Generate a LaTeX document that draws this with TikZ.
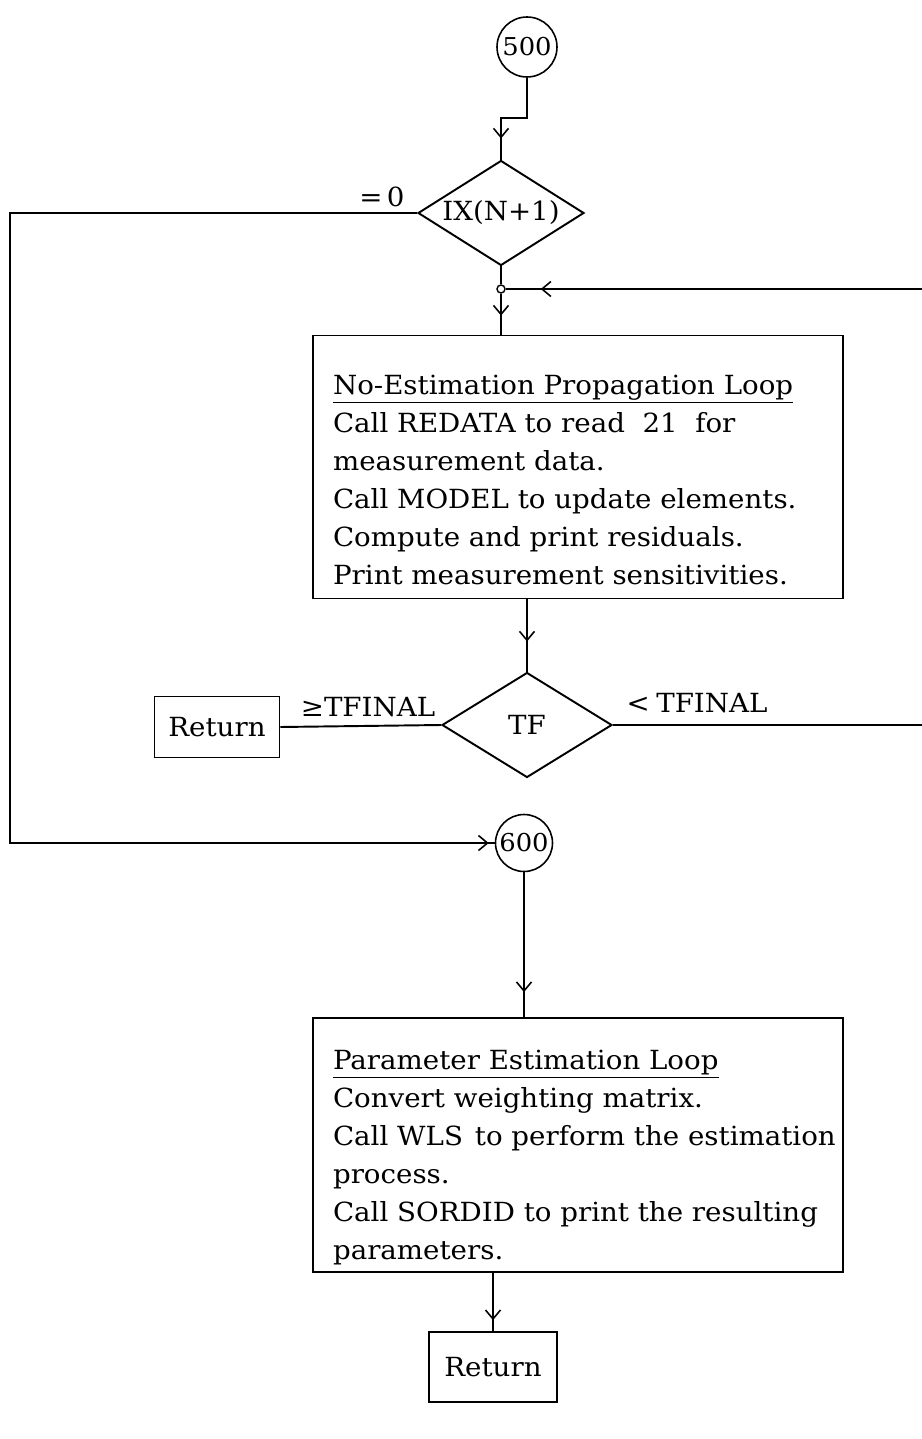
\documentclass[tikz,border=0pt]{standalone}
\usepackage{fontspec}
\setmainfont[FakeStretch=1.05,WordSpace=0.75]{DejaVu Serif}
\usetikzlibrary{arrows.meta,positioning,calc,shapes.geometric,decorations.markings}
\tikzset{
    conn/.style={circle,draw,line width=0.9pt,minimum size=1.2cm,inner sep=0pt,font=\fontsize{14}{16}\selectfont},
    decision/.style={diamond,draw,line width=1.1pt,inner sep=0pt,aspect=1.58,minimum width=3.32cm,minimum height=2.1cm},
    procbox/.style={draw,line width=1pt,align=left,text width=9.8cm,inner xsep=0.4cm},
    retbox/.style={draw,line width=0.9pt,minimum width=2.5cm,minimum height=1.22cm,inner sep=0pt},
    flow/.style={line width=1.1pt},
    midarrow/.style={flow,postaction={decorate},decoration={markings,mark=at position #1 with {\arrow{Straight Barb[length=1.8mm,width=3mm,line width=0.9pt]}}}}
}

\begin{document}
\begin{tikzpicture}[x=0.02cm,y=-0.02cm,every node/.style={font=\fontsize{15}{21.6}\selectfont}]
    \useasboundingbox (0,0) rectangle (921,1439);
    % top part
    \node[conn] (c500) at (527,47) {500};
    \node[decision] (ix) at (501,213) {IX(N+1)};
    \node (eq) at (382,197) {=\,0};
    \node[circle,draw,line width=0.8pt,minimum size=0.16cm,inner sep=0pt,font=] (jn) at (501,289) {};
    \node[procbox,minimum height=5.26cm] (prop) at (578,467) {\rule{0pt}{0.9cm}\underline{No-Estimation Propagation Loop}\\
        \mbox{Call REDATA to read\ \ 21\ \ for}\\
        measurement data.\\
        \mbox{Call MODEL to update elements.}\\
        Compute and print residuals.\\
        \mbox{Print measurement sensitivities.}};
    \node[decision,minimum width=3.4cm] (tf) at (527,725) {TF};
    \node[retbox] (ret1) at (217,727) {Return};
    \node (ge) at (368,707) {≥TFINAL};
    \node (lt) at (697,703) {< TFINAL};
    % bottom part
    \node[conn,minimum size=1.14cm] (c600) at (524,843) {600};
    \node[procbox,minimum height=5.08cm] (est) at (578,1145) {\rule{0pt}{0.9cm}\underline{Parameter Estimation Loop}\\
        Convert weighting matrix.\\
        \mbox{Call WLS\ \hspace{0.12em}to perform the estimation}\\
        process.\\
        \mbox{Call SORDID to print the resulting}\\
        parameters.};
    \node[retbox,minimum width=2.56cm,minimum height=1.4cm] (ret2) at (493,1367) {Return};

    \coordinate (k500) at (527,118);
    \coordinate (lft) at (10,213);
    \coordinate (rgt) at (930,725);
    \draw[midarrow=-0.42cm] (c500) -- (k500) -| (ix.north);
    \draw[midarrow=-0.12cm] (ix.west) -- (lft) |- (c600.west);
    \draw[flow] (ix.south) -- (jn.north);
    \draw[midarrow=-0.7cm] (tf.east) -- (rgt) |- (jn.east);
    \draw[midarrow=-0.38cm] (jn.south) -- (jn |- prop.north);
    \draw[midarrow=-0.6cm] (prop.south -| tf.north) -- (tf.north);
    \draw[flow] (tf.west) -- (ret1.east);
    \draw[midarrow=-0.5cm] (c600) -- (c600 |- est.north);
    \draw[midarrow=-0.22cm] (est.south -| ret2.north) -- (ret2.north);
\end{tikzpicture}
\end{document}
